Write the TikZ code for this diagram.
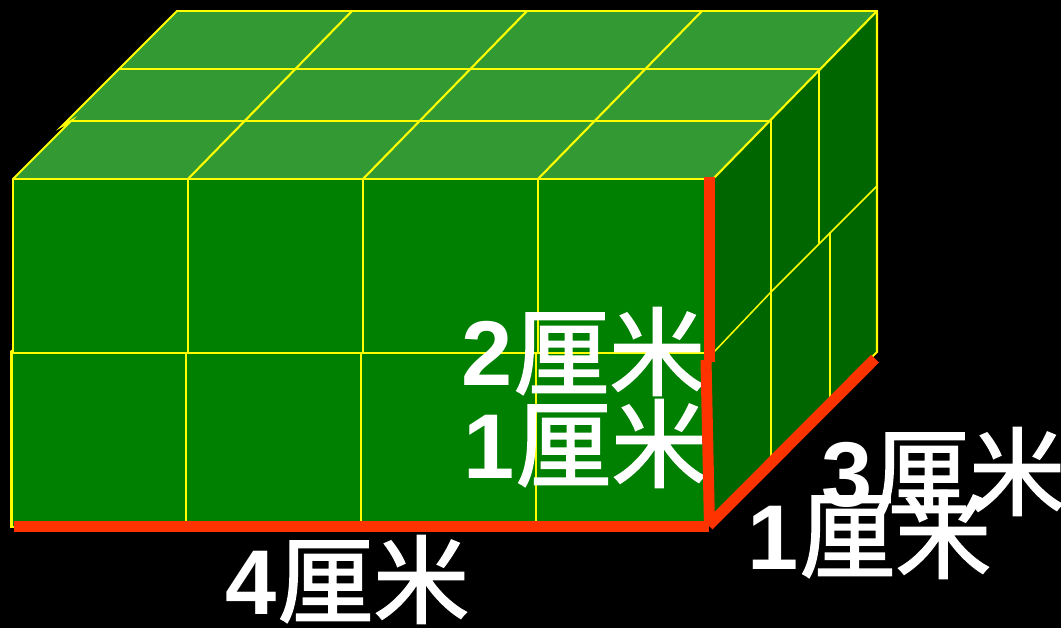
\documentclass[tikz,border=0pt]{standalone}
\usepackage{fontspec}
\setmainfont{Liberation Sans}
\newfontfamily\cjk[FakeBold=1.6]{Noto Sans CJK SC}
\definecolor{frontg}{HTML}{008000}
\definecolor{topg}{HTML}{339933}
\definecolor{sideg}{HTML}{006600}
\definecolor{edgered}{HTML}{FF3300}
\definecolor{gridy}{HTML}{FFFF00}
\tikzset{
  grid line/.style={draw=gridy,line width=2.1pt,line cap=round},
  thin grid/.style={draw=gridy,line width=1.5pt},
  red edge/.style={draw=edgered,line width=11pt},
  label text/.style={text=white,inner sep=0pt,anchor=base west,font=\fontsize{92}{92}\selectfont\bfseries}
}
\newcommand{\cm}[1]{#1\kern1pt\raisebox{-2pt}{\fontsize{96}{96}\selectfont\mdseries\cjk 厘米}}
\begin{document}
\begin{tikzpicture}[x=1pt,y=-1pt]
\fill[black] (0,0) rectangle (1061,628);
\useasboundingbox (0,0) rectangle (1061,628);
% faces
\fill[topg] (13,179) -- (71,121) -- (61,127) -- (177,11) -- (877,11) -- (713,179) -- cycle;
\fill[sideg] (713,179) -- (877,11) -- (877,352) -- (711,526) -- cycle;
\fill[frontg] (13,179) -- (713,179) -- (711,526) -- (12,526) -- (12,353) -- (13,353) -- cycle;
% top grid
\draw[grid line] (177,11) -- (877,11);
\draw[grid line] (119,69) -- (819,69);
\draw[grid line] (71,121) -- (771,121);
\draw[grid line] (13,179) -- (713,179);
\draw[grid line] (13,179) -- (71,121) -- (62,126) -- (177,11);
\draw[grid line] (188,179) -- (352,11);
\draw[grid line] (363,179) -- (527,11);
\draw[grid line] (538,179) -- (702,11);
\draw[grid line] (713,179) -- (877,11);
% front grid
\draw[grid line] (13,179) -- (13,353);
\draw[grid line] (188,179) -- (188,353);
\draw[grid line] (363,179) -- (363,353);
\draw[grid line] (538,179) -- (538,353);
\draw[grid line] (11.5,353) -- (711,353);
\draw[grid line] (11.5,351) -- (11.5,527) -- (14,527);
\draw[grid line] (186,353) -- (186,526);
\draw[grid line] (361,353) -- (361,526);
\draw[grid line] (536,353) -- (536,526);
% right grid
\draw[grid line] (877,11) -- (877,352) -- (872,357);
\draw[grid line] (771,121) -- (771,457);
\draw[grid line] (819,69) -- (819,243);
\draw[grid line] (830,233) -- (830,397);
\draw[thin grid] (877,186) -- (830,233) -- (771,292) -- (713,353);
% labels
\node[label text] (two) at (461,386) {\cm{2}};
\node[label text] (one) at (463,478) {\cm{1}};
\node[label text] (four) at (225,614) {\cm{4}};
\node[label text] (three) at (821,506) {\cm{3}};
\node[label text] (onedeep) at (747,569) {\cm{1}};
% red edges
\draw[red edge] (14,526.5) -- (709,526.5);
\draw[red edge] (706,360) -- (709.5,526);
\draw[red edge] (709,177.5) -- (709,362);
\draw[red edge] (875,358.7) -- (708.6,525.6);
\end{tikzpicture}
\end{document}
